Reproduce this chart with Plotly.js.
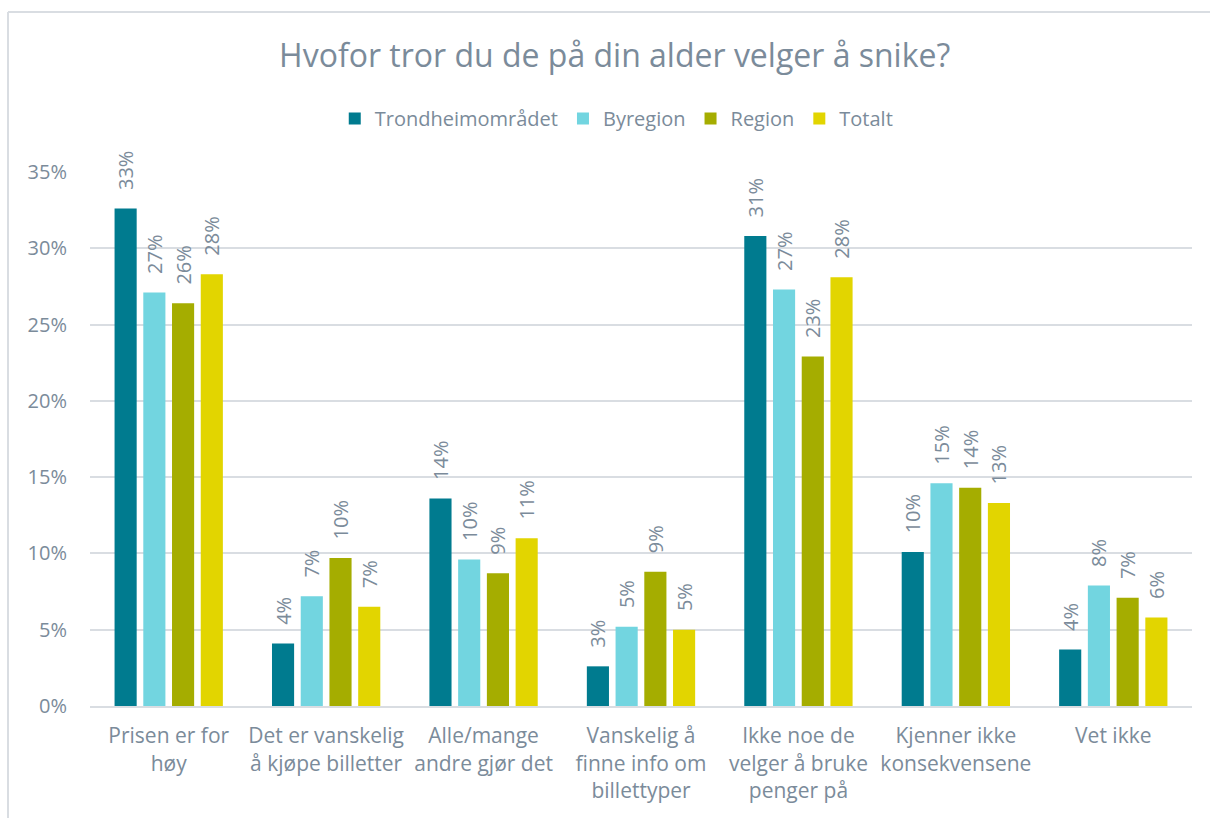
<!DOCTYPE html>
<html>
<head>
<meta charset="utf-8">
<script src="https://cdn.plot.ly/plotly-3.0.1.min.js"></script>
<style>html,body{margin:0;padding:0;background:#fff;}#chart{width:1210px;height:818px;}</style>
</head>
<body>
<div id="chart"></div>
<script>
const categories = [
  "Prisen er for<br>høy",
  "Det er vanskelig<br>å kjøpe billetter",
  "Alle/mange<br>andre gjør det",
  "Vanskelig å<br>finne info om<br>billettyper",
  "Ikke noe de<br>velger å bruke<br>penger på",
  "Kjenner ikke<br>konsekvensene",
  "Vet ikke"
];
const seriesNames = ["Trondheimområdet", "Byregion", "Region", "Totalt"];
const trondheim = [0.326, 0.041, 0.136, 0.026, 0.308, 0.101, 0.037];
const byregion  = [0.271, 0.072, 0.096, 0.052, 0.273, 0.146, 0.079];
const region    = [0.264, 0.097, 0.087, 0.088, 0.229, 0.143, 0.071];
const totalt    = [0.283, 0.065, 0.110, 0.050, 0.281, 0.133, 0.058];
const colors = ["#007B8F", "#72D5E0", "#A5AD00", "#E2D500"];
const yTicks = [0, 0.05, 0.10, 0.15, 0.20, 0.25, 0.30, 0.35];
const yTickLabels = ["0%", "5%", "10%", "15%", "20%", "25%", "30%", "35%"];

const textColor = "#7B8B9A";
const font = "'Open Sans', 'Noto Sans', sans-serif";
const allSeries = [trondheim, byregion, region, totalt];
const pad = "\u00a0\u00a0\u00a0";

const traces = allSeries.map((vals, i) => ({
  type: "bar",
  name: seriesNames[i],
  x: categories,
  y: vals,
  marker: {color: colors[i]},
  text: vals.map(v => pad + Math.round(v * 100) + "%"),
  textposition: "outside",
  textangle: -90,
  constraintext: "none",
  textfont: {color: textColor, size: 20, family: font},
  cliponaxis: false,
  hoverinfo: "skip"
}));

const layout = {
  width: 1210,
  height: 818,
  margin: {l: 90, r: 18, t: 172, b: 112},
  paper_bgcolor: "#fff",
  plot_bgcolor: "#fff",
  font: {family: font, color: textColor},
  title: {
    text: "Hvofor tror du de på din alder velger å snike?",
    font: {size: 32, color: textColor, family: font},
    x: 0.508, xanchor: "center", y: 0.932, yanchor: "middle"
  },
  showlegend: true,
  legend: {
    orientation: "h",
    x: 0.478, xanchor: "center",
    y: 1.1, yanchor: "middle",
    font: {size: 20, color: textColor, family: font},
    itemwidth: 30,
    traceorder: "normal"
  },
  barmode: "group",
  bargap: 0.27,
  bargroupgap: 0.23,
  xaxis: {
    tickfont: {size: 21, color: textColor, family: font},
    showgrid: false,
    showline: true,
    linecolor: "#D9DDE2",
    linewidth: 2,
    ticks: "",
    ticklabelstandoff: 10,
    fixedrange: true
  },
  yaxis: {
    range: [0, 0.35],
    tickvals: yTicks,
    ticktext: yTickLabels,
    tickfont: {size: 20, color: textColor, family: font},
    showgrid: true,
    gridcolor: "#D9DDE2",
    gridwidth: 2,
    zeroline: false,
    showline: false,
    ticks: "",
    ticklabelstandoff: 22,
    fixedrange: true
  },
  shapes: [
    {type: "line", xref: "paper", yref: "paper", x0: -0.0744, x1: -0.0744, y0: 1.2996, y1: -0.21, line: {color: "#D9DDE2", width: 2}},
    {type: "line", xref: "paper", yref: "paper", x0: -0.0744, x1: 1.02, y0: 1.2996, y1: 1.2996, line: {color: "#D9DDE2", width: 2}}
  ]
};

Plotly.newPlot("chart", traces, layout, {displayModeBar: false, staticPlot: true});
</script>
</body>
</html>
